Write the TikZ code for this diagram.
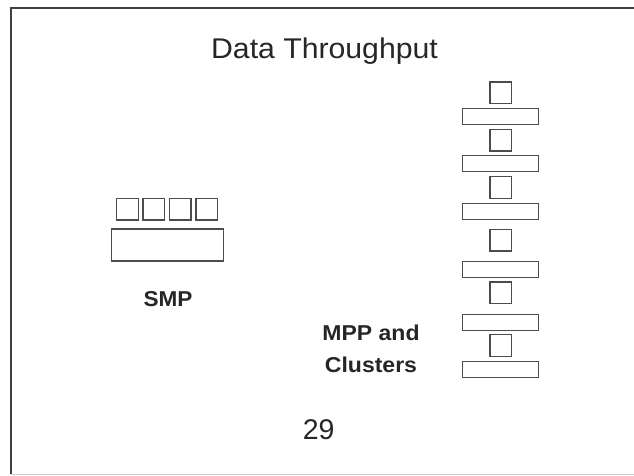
\documentclass[tikz,border=0pt]{standalone}
\usepackage{fontspec}
\setmainfont{Liberation Sans}
\begin{document}
\begin{tikzpicture}[x=1pt,y=-1pt,
  unit/.style={draw=black!70,line width=1.2pt,rectangle,inner sep=0pt},
  cpu/.style={unit,minimum width=21.5pt,minimum height=21.5pt},
  smpmem/.style={unit,minimum width=112pt,minimum height=32pt},
  mppmem/.style={unit,minimum width=76pt,minimum height=16pt},
  lbl/.style={text=black!85,inner sep=0pt,anchor=base,font=\fontsize{21.5}{26}\selectfont\bfseries},
  big/.style={text=black!85,inner sep=0pt,anchor=base,font=\fontsize{28.5}{34}\selectfont}]
\useasboundingbox (0,0) rectangle (634,476);
% slide frame
\draw[black!75,line width=1.6pt] (634,8) -- (11,8) -- (11,474);
\draw[black!20,line width=0.8pt] (11,474.5) -- (634,474.5);
% title and page number
\node[big] (title) at (324.5,58.3) {\scalebox{1.06}[1]{Data Throughput}};
\node[big] (page) at (318.7,439) {29};
% SMP: four processors sharing one memory
\node[cpu] (s1) at (127.5,209.2) {};
\node[cpu] (s2) at (153.8,209.2) {};
\node[cpu] (s3) at (180.2,209.2) {};
\node[cpu] (s4) at (206.7,209.2) {};
\node[smpmem] (smem) at (167.2,245) {};
\node[lbl] (smp) at (168,306.5) {\scalebox{1.05}[1]{SMP}};
% MPP: each processor with its own memory
\foreach \i/\p/\m in {1/92.8/116.3,2/140.2/163.7,3/187.5/211.3,4/240.2/269.2,5/292.7/322.2,6/345.5/369.2}{
  \node[cpu] (p\i) at (500.8,\p) {};
  \node[mppmem] (m\i) at (500.8,\m) {};
}
\node[lbl] (mpp1) at (371,340.7) {\scalebox{1.07}[1]{MPP and}};
\node[lbl] (mpp2) at (371,372) {\scalebox{1.07}[1]{Clusters}};
\end{tikzpicture}
\end{document}
